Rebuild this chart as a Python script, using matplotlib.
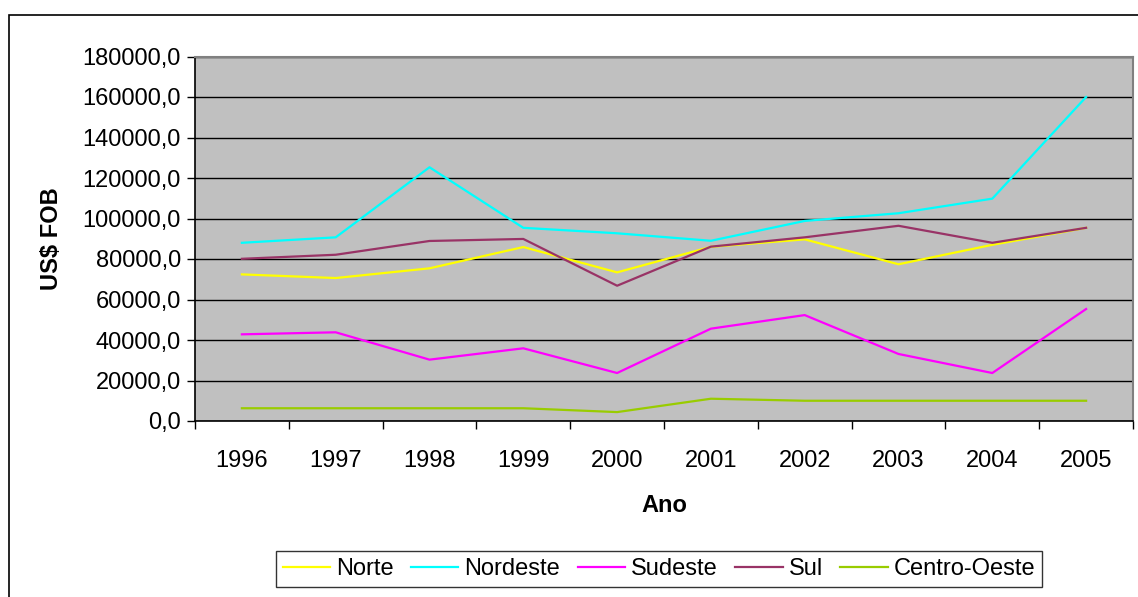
import matplotlib
matplotlib.use("Agg")
import matplotlib.pyplot as plt
from matplotlib.lines import Line2D
from matplotlib.patches import Rectangle
import numpy as np

plt.rcParams['font.family'] = ['Liberation Sans', 'DejaVu Sans']

anos = ['1996', '1997', '1998', '1999', '2000', '2001', '2002', '2003', '2004', '2005']
norte = [72400, 70600, 75400, 85900, 73400, 86000, 89700, 77400, 87000, 95400]
nordeste = [88000, 90700, 125300, 95400, 92700, 89000, 98800, 102600, 109800, 160000]
sudeste = [42800, 43800, 30300, 35900, 23700, 45600, 52300, 33100, 23700, 55300]
sul = [80100, 82100, 88900, 89900, 66800, 86100, 90700, 96400, 88000, 95400]
centro_oeste = [6300, 6300, 6300, 6300, 4400, 11000, 10000, 10000, 10000, 10000]

series = ['Norte', 'Nordeste', 'Sudeste', 'Sul', 'Centro-Oeste']
valores = [norte, nordeste, sudeste, sul, centro_oeste]
cores = ['#FFFF00', '#00FFFF', '#FF00FF', '#993366', '#99CC00']
yticks = np.arange(0, 180001, 20000)

W, H = 1138, 597
fig = plt.figure(figsize=(W / 100, H / 100), dpi=100)
fig.patch.set_facecolor('white')

# outer chart border
fig.add_artist(Rectangle((9 / W, -0.1), 1.2, (H - 15) / H + 0.1, transform=fig.transFigure,
                         fill=False, edgecolor='black', linewidth=1.2))

left, right, top, bottom = 195, 1133, 56.5, 421
ax = fig.add_axes([left / W, 1 - bottom / H, (right - left) / W, (bottom - top) / H])
ax.set_facecolor('#C0C0C0')

x = np.arange(len(anos))
for nome, v, c in zip(series, valores, cores):
    ax.plot(x, v, color=c, linewidth=1.6, label=nome, zorder=3)

fs = 17
ax.set_xlim(-0.5, len(anos) - 0.5)
ax.set_ylim(0, 180000)
ax.set_yticks(yticks)
ax.set_yticklabels([f"{int(t)},0" for t in yticks], fontsize=fs)
ax.set_xticks(x)
ax.set_xticklabels(anos, fontsize=fs)
ax.set_xticks(np.arange(-0.5, len(anos), 1.0), minor=True)
ax.tick_params(axis='x', which='major', length=0, pad=21)
ax.tick_params(axis='x', which='minor', length=6, width=1, color='black', direction='out')
ax.tick_params(axis='y', length=6, width=1, color='black', direction='out', pad=4)

ax.grid(axis='y', color='black', linewidth=1.0, zorder=1)
ax.set_axisbelow(True)

for s in ['top', 'right']:
    ax.spines[s].set_color('#808080')
    ax.spines[s].set_linewidth(1.5)
for s in ['left', 'bottom']:
    ax.spines[s].set_color('black')
    ax.spines[s].set_linewidth(1.2)

ax.set_ylabel('US$ FOB', fontsize=fs, fontweight='bold', labelpad=14)
ax.set_xlabel('Ano', fontsize=fs, fontweight='bold', labelpad=16)

handles = [Line2D([0], [0], color=c, linewidth=1.6) for c in cores]
leg = fig.legend(handles, series, loc='center', ncol=5,
                 bbox_to_anchor=((272 + 1046) / 2 / W, 1 - 569 / H),
                 fontsize=fs, frameon=True, fancybox=False, handlelength=2.0,
                 handletextpad=0.25, columnspacing=0.75, borderpad=0.3)
leg.get_frame().set_edgecolor('black')
leg.get_frame().set_linewidth(1.0)

fig.savefig('out.png', dpi=100, facecolor='white')
